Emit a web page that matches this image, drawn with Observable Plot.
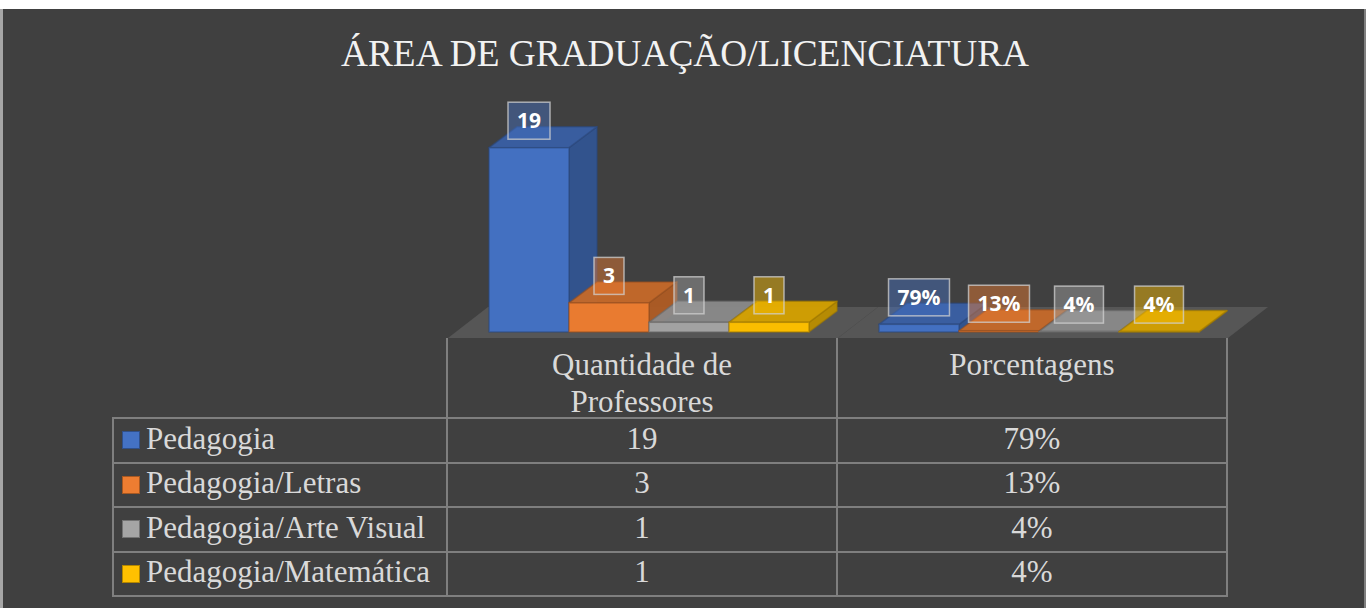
<!DOCTYPE html>
<html><head><meta charset="utf-8">
<script src="https://cdn.jsdelivr.net/npm/d3@7"></script>
<script src="https://cdn.jsdelivr.net/npm/@observablehq/plot@0.6"></script>
<style>
html,body{margin:0;padding:0;background:#fff;}
#page{position:relative;width:1370px;height:608px;overflow:hidden;background:#fff;}
#edge{position:absolute;left:0;top:9px;width:3px;height:599px;background:#a6a6a6;}
#panel{position:absolute;left:3px;top:9px;width:1361px;height:599px;background:#404040;border-right:2px solid #7f7f7f;}
#title{position:absolute;left:0;width:1370px;top:32px;line-height:43px;text-align:center;font-family:"Liberation Serif","Times New Roman",serif;font-size:37.3px;color:#f2f2f2;white-space:nowrap;}
#chart{position:absolute;left:0;top:90px;}
.cell{position:absolute;display:flex;align-items:center;font-family:"Liberation Serif","Times New Roman",serif;font-size:31px;color:#d9d9d9;white-space:nowrap;box-sizing:border-box;}
.hdr{align-items:flex-start;justify-content:center;text-align:center;line-height:37px;padding-top:8px;white-space:normal;}
.line{position:absolute;background:#7f7f7f;}
.sw{display:inline-block;width:16px;height:16px;margin-right:6px;box-sizing:content-box;}
</style>
</head><body>
<div id="page">
  <div id="edge"></div>
  <div id="panel"></div>
  <div id="title"></div>
  <div id="chart"></div>
  <div id="table"></div>
</div>
<script>
// ---- data ----
const chartTitle = "ÁREA DE GRADUAÇÃO/LICENCIATURA";
const series = ["Pedagogia", "Pedagogia/Letras", "Pedagogia/Arte Visual", "Pedagogia/Matemática"];
const measures = ["Quantidade de Professores", "Porcentagens"];
const headerLines = [["Quantidade de", "Professores"], ["Porcentagens"]];
const counts = [19, 3, 1, 1];
const percents = [0.79, 0.13, 0.04, 0.04];
const colors = ["#4472C4", "#ED7D31", "#A5A5A5", "#FFC000"];

const fmtCount = v => String(v);
const fmtPct = v => Math.round(v * 100) + "%";

const rows = [];
series.forEach((s, i) => rows.push({measure: measures[0], series: s, value: counts[i], label: fmtCount(counts[i])}));
series.forEach((s, i) => rows.push({measure: measures[1], series: s, value: percents[i], label: fmtPct(percents[i])}));

document.getElementById("title").textContent = chartTitle;

// ---- 3D helpers ----
const INSET_L = 41, INSET_R = 28;
const DX = 28, DY = -21;
function pts(a) { return a.map(p => p.map(v => v.toFixed(2)).join(",")).join(" "); }

function bar3d(index, scales, values, dims, context) {
  const bw = scales.x.bandwidth();
  const g = d3.create("svg:g");
  const order = Array.from(index).sort((a, b) => values.x[a] - values.x[b]);
  for (const i of order) {
    const x0 = values.x[i], x1 = x0 + bw;
    const top = Math.min(values.y1[i], values.y2[i]);
    const bot = Math.max(values.y1[i], values.y2[i]);
    const c = d3.color(values.fill[i]);
    const edge = c.darker(1.3).formatHex();
    g.append("polygon")
      .attr("points", pts([[x1, top], [x1 + DX, top + DY], [x1 + DX, bot + DY], [x1, bot]]))
      .attr("fill", c.darker(0.85).formatHex()).attr("fill-opacity", 0.95)
      .attr("stroke", edge).attr("stroke-opacity", 0.6).attr("stroke-width", 1.5).attr("stroke-linejoin", "round");
    g.append("polygon")
      .attr("points", pts([[x0, top], [x1, top], [x1 + DX, top + DY], [x0 + DX, top + DY]]))
      .attr("fill", c.darker(0.5).formatHex()).attr("fill-opacity", 0.95)
      .attr("stroke", edge).attr("stroke-opacity", 0.6).attr("stroke-width", 1.5).attr("stroke-linejoin", "round");
    g.append("rect")
      .attr("x", x0).attr("y", top).attr("width", bw).attr("height", Math.max(0, bot - top))
      .attr("fill", c.darker(0.05).formatHex())
      .attr("stroke", edge).attr("stroke-opacity", 0.6).attr("stroke-width", 1.5);
  }
  return g.node();
}

const measureCtx = document.createElement("canvas").getContext("2d");
function labels3d(index, scales, values, dims, context) {
  const bw = scales.x.bandwidth();
  measureCtx.font = "bold 21px 'Open Sans'";
  const g = d3.create("svg:g");
  for (const i of index) {
    const cx = values.x[i] + bw / 2;
    const cy = values.y[i] - 27;
    const txt = values.text[i];
    const w = measureCtx.measureText(txt).width + 18, h = 37;
    g.append("rect")
      .attr("x", cx - w / 2).attr("y", cy - h / 2).attr("width", w).attr("height", h)
      .attr("fill", values.fill[i]).attr("fill-opacity", 0.45)
      .attr("stroke", "#d0d0d0").attr("stroke-opacity", 0.75).attr("stroke-width", 1.5);
    g.append("text")
      .attr("x", cx).attr("y", cy).attr("dy", "0.36em")
      .attr("text-anchor", "middle")
      .attr("font-family", "'Open Sans', sans-serif").attr("font-weight", "bold").attr("font-size", 21)
      .attr("fill", "#ffffff").text(txt);
  }
  return g.node();
}

// floor: one parallelogram slab per facet, spanning the facet band
function floor3d(index, scales, values, dims, context) {
  const x = scales.x;
  const bw = x.bandwidth();
  const left = x(series[0]) - INSET_L;
  const right = x(series[series.length - 1]) + bw + INSET_R;
  const y0 = scales.y(0);
  const yf = y0 + 6, yb = y0 - 25, fdx = 40;
  const g = d3.create("svg:g");
  g.append("polygon")
    .attr("points", pts([[left, yf], [right + 1, yf], [right + 1 + fdx, yb], [left + fdx, yb]]))
    .attr("fill", "#565656");
  return g.node();
}

const chart = Plot.plot({
  width: 1370,
  height: 250,
  marginLeft: 447,
  marginRight: 143,
  marginTop: 48,
  marginBottom: 8,
  style: {background: "transparent", overflow: "visible"},
  fx: {domain: measures, padding: 0, axis: null, label: null},
  x: {domain: series, padding: 0, insetLeft: INSET_L, insetRight: INSET_R, axis: null, label: null},
  y: {domain: [0, 20], axis: null, label: null},
  color: {domain: series, range: colors},
  marks: [
    Plot.barY(rows.filter(d => d.series === series[0]), {fx: "measure", x: "series", y: "value", render: floor3d}),
    Plot.barY(rows, {fx: "measure", x: "series", y: "value", fill: "series", render: bar3d}),
    Plot.text(rows, {fx: "measure", x: "series", y: "value", text: "label", fill: "series", render: labels3d})
  ]
});
document.getElementById("chart").appendChild(chart);

// ---- data table (legend) aligned to the fx scale ----
const fxs = chart.scale("fx");
const bwf = fxs.bandwidth;
const tableLeft = 113;
const colL = [tableLeft, ...measures.map(m => fxs.apply(m))];
const colR = [fxs.apply(measures[0]), ...measures.map(m => fxs.apply(m) + bwf)];
const tableTop = 338, headerH = 80, rowH = 44.5;
const rowTops = series.map((s, i) => tableTop + headerH + i * rowH);
const tableBottom = tableTop + headerH + series.length * rowH;
const table = document.getElementById("table");

function addLine(x, y, w, h) {
  const d = document.createElement("div");
  d.className = "line";
  Object.assign(d.style, {left: x + "px", top: y + "px", width: w + "px", height: h + "px"});
  table.appendChild(d);
}
function addCell(x, y, w, h, cls) {
  const d = document.createElement("div");
  d.className = "cell" + (cls ? " " + cls : "");
  Object.assign(d.style, {left: x + "px", top: y + "px", width: w + "px", height: h + "px"});
  table.appendChild(d);
  return d;
}

measures.forEach((m, j) => {
  const c = addCell(colL[j + 1], tableTop, colR[j + 1] - colL[j + 1], headerH, "hdr");
  c.innerHTML = headerLines[j].join("<br>");
});
series.forEach((s, i) => {
  const y = rowTops[i];
  const lab = addCell(colL[0], y, colR[0] - colL[0], rowH);
  lab.style.paddingLeft = "9px";
  lab.style.paddingBottom = "3px";
  const sw = document.createElement("span");
  sw.className = "sw";
  sw.style.background = colors[i];
  sw.style.border = "1.5px solid " + d3.color(colors[i]).darker(1).formatHex();
  sw.style.marginTop = "3px";
  lab.appendChild(sw);
  lab.appendChild(document.createTextNode(s));
  const vals = [fmtCount(counts[i]), fmtPct(percents[i])];
  vals.forEach((v, j) => {
    const c = addCell(colL[j + 1], y, colR[j + 1] - colL[j + 1], rowH);
    c.style.justifyContent = "center";
    c.style.paddingBottom = "3px";
    c.textContent = v;
  });
});
const hYs = [...rowTops, tableBottom];
hYs.forEach(y => addLine(tableLeft - 1, y - 1, colR[colR.length - 1] - tableLeft + 2, 2));
addLine(tableLeft - 1, rowTops[0] - 1, 2, tableBottom - rowTops[0] + 2);
[colL[1], colL[2], colR[2]].forEach(x => addLine(x - 1, tableTop, 2, tableBottom - tableTop + 1));
</script>
</body></html>
